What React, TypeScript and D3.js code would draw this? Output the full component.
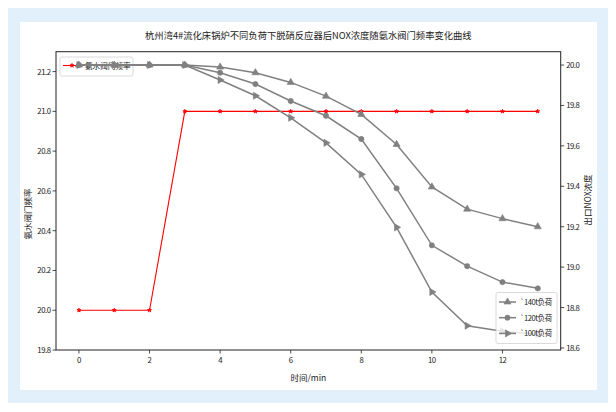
import React from "react";
import * as d3 from "d3";

const xs = [0, 1, 2, 3, 4, 5, 6, 7, 8, 9, 10, 11, 12, 13];
const valveFreq = [20.0, 20.0, 20.0, 21.0, 21.0, 21.0, 21.0, 21.0, 21.0, 21.0, 21.0, 21.0, 21.0, 21.0];
const nox140 = [20.0, 20.0, 20.0, 20.0, 19.99, 19.962, 19.914, 19.846, 19.756, 19.607, 19.397, 19.287, 19.24, 19.2];
const nox120 = [20.0, 20.0, 20.0, 20.0, 19.962, 19.906, 19.822, 19.749, 19.634, 19.39, 19.108, 19.005, 18.926, 18.895];
const nox100 = [20.0, 20.0, 20.0, 20.0, 19.926, 19.848, 19.739, 19.615, 19.459, 19.197, 18.877, 18.71, 18.683, 18.668];
const xTicks = [0, 2, 4, 6, 8, 10, 12];
const leftTicks = [19.8, 20.0, 20.2, 20.4, 20.6, 20.8, 21.0, 21.2];
const rightTicks = [18.6, 18.8, 19.0, 19.2, 19.4, 19.6, 19.8, 20.0];
const title = "杭州湾4#流化床锅炉不同负荷下脱硝反应器后NOX浓度随氨水阀门频率变化曲线";
const leftLabel = "氨水阀门频率";
const rightLabel = "出口NOX浓度";
const xLabel = "时间/min";
const redLegend = "氨水阀门频率";
const grayLegends = ["`140t负荷", "`120t负荷", "`100t负荷"];

const FONT = "'Noto Sans CJK SC', 'DejaVu Sans', sans-serif";

const L = 56, R = 560.7, T = 51.7, B = 350;

export default function App() {
  const x = d3.scaleLinear().domain([-0.65, 13.65]).range([L, R]);
  const yL = d3.scaleLinear().domain([19.8, 21.3]).range([B, T]);
  const yR = d3.scaleLinear().domain([18.59, 20.066]).range([B, T]);

  const lineL = d3.line<number>().x((_, i) => x(xs[i])).y((d) => yL(d));
  const lineR = d3.line<number>().x((_, i) => x(xs[i])).y((d) => yR(d));

  const star = d3.symbol().type(d3.symbolStar).size(5)()!;
  const tri = d3.symbol().type(d3.symbolTriangle).size(22)()!;
  const circ = d3.symbol().type(d3.symbolCircle).size(22)()!;

  const gray = "#808080";
  const series = [
    { data: nox140, path: tri, rot: 0 },
    { data: nox120, path: circ, rot: 0 },
    { data: nox100, path: tri, rot: 90 },
  ];

  const fmt = d3.format(".1f");
  const tickStyle = { letterSpacing: "-0.5px" };

  return (
    <div style={{ position: "absolute", left: 0, top: 0 }}>
      <svg width={616} height={412} style={{ display: "block" }} fontFamily={FONT}>
        <rect x={0} y={0} width={616} height={412} fill="#fff" />
        <rect x={8} y={8} width={600} height={395} fill="#e1f0fa" />
        <rect x={20} y={22} width={577} height={368} fill="#fff" />

        <text x={(L + R) / 2} y={39} textAnchor="middle" fontSize={9.3} fill="#222">{title}</text>

        {/* left axis content: red */}
        <path d={lineL(valveFreq)!} fill="none" stroke="red" strokeWidth={1.1} />
        {valveFreq.map((v, i) => (
          <path key={"r" + i} d={star} transform={`translate(${x(xs[i])},${yL(v)})`} fill="red" stroke="red" strokeWidth={0.8} />
        ))}

        {/* left legend */}
        <rect x={60} y={57} width={73} height={19} rx={2} fill="#fff" fillOpacity={0.8} stroke="#d0d0d0" strokeWidth={0.8} />
        <line x1={63} x2={81} y1={65.5} y2={65.5} stroke="red" strokeWidth={1.1} />
        <path d={star} transform="translate(72,65.5)" fill="red" stroke="red" strokeWidth={0.8} />
        <text x={85} y={68.5} fontSize={7.6} fill="#222">{redLegend}</text>

        {/* right axis content: gray */}
        {series.map((s, k) => (
          <g key={"s" + k}>
            <path d={lineR(s.data)!} fill="none" stroke={gray} strokeWidth={1.5} />
            {s.data.map((v, i) => (
              <path key={i} d={s.path} transform={`translate(${x(xs[i])},${yR(v)}) rotate(${s.rot})`} fill={gray} stroke={gray} strokeWidth={0.6} />
            ))}
          </g>
        ))}

        {/* right legend */}
        <rect x={496} y={292.5} width={61} height={51} rx={2} fill="#fff" fillOpacity={0.8} stroke="#d0d0d0" strokeWidth={0.8} />
        {series.map((s, k) => {
          const yy = 302 + k * 15.7;
          return (
            <g key={"lg" + k}>
              <line x1={499} x2={516} y1={yy} y2={yy} stroke={gray} strokeWidth={1.5} />
              <path d={s.path} transform={`translate(507.5,${yy}) rotate(${s.rot})`} fill={gray} stroke={gray} strokeWidth={0.6} />
              <text x={520} y={yy + 3} fontSize={7.6} fill="#222" style={tickStyle}>{grayLegends[k]}</text>
            </g>
          );
        })}

        {/* spines */}
        <rect x={L} y={T} width={R - L} height={B - T} fill="none" stroke="#222" strokeWidth={1} />

        {/* x ticks */}
        {xTicks.map((t) => (
          <g key={"x" + t}>
            <line x1={x(t)} x2={x(t)} y1={B} y2={B + 3.5} stroke="#222" strokeWidth={0.8} />
            <text x={x(t)} y={B + 12.5} textAnchor="middle" fontSize={7.8} fill="#222" style={tickStyle}>{t}</text>
          </g>
        ))}
        {/* left ticks */}
        {leftTicks.map((t) => (
          <g key={"l" + t}>
            <line x1={L - 3.5} x2={L} y1={yL(t)} y2={yL(t)} stroke="#222" strokeWidth={0.8} />
            <text x={L - 5.5} y={yL(t) + 3} textAnchor="end" fontSize={7.8} fill="#222" style={tickStyle}>{fmt(t)}</text>
          </g>
        ))}
        {/* right ticks */}
        {rightTicks.map((t) => (
          <g key={"rt" + t}>
            <line x1={R} x2={R + 3.5} y1={yR(t)} y2={yR(t)} stroke="#222" strokeWidth={0.8} />
            <text x={R + 5.5} y={yR(t) + 3} textAnchor="start" fontSize={7.8} fill="#222" style={tickStyle}>{fmt(t)}</text>
          </g>
        ))}

        <text x={(L + R) / 2} y={381} textAnchor="middle" fontSize={8.5} fill="#222">{xLabel}</text>
        <text transform={`translate(31,214) rotate(-90)`} textAnchor="middle" fontSize={8.5} fill="#222">{leftLabel}</text>
        <text transform={`translate(591,200) rotate(-90)`} textAnchor="middle" fontSize={8.5} fill="#222">{rightLabel}</text>
      </svg>
    </div>
  );
}
